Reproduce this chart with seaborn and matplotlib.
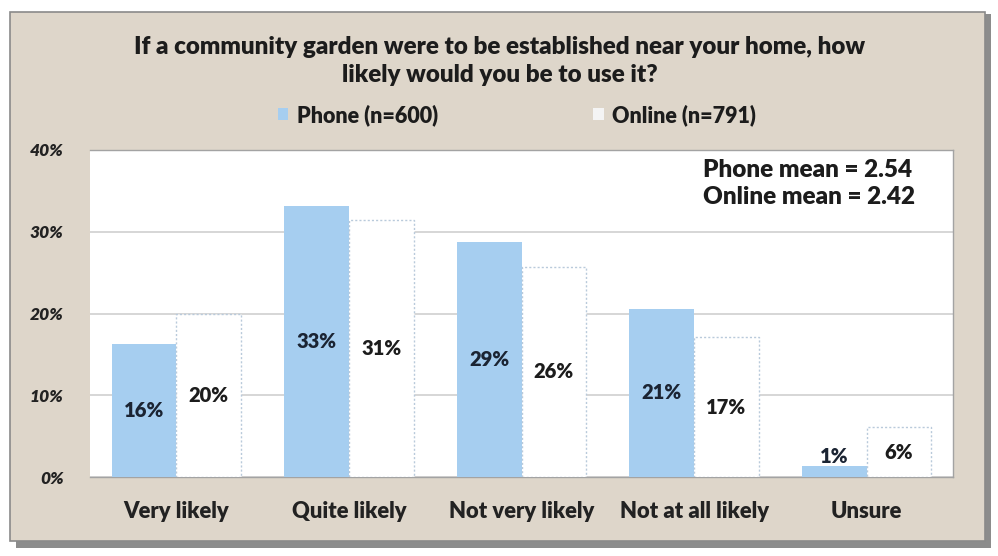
import matplotlib
matplotlib.use("Agg")
import matplotlib.pyplot as plt
import matplotlib.patches as mpatches
from matplotlib.ticker import FixedLocator
import seaborn as sns
import pandas as pd

# Survey responses (% of respondents)
categories = ["Very likely", "Quite likely", "Not very likely", "Not at all likely", "Unsure"]
phone_pct = [16.3, 33.2, 28.8, 20.6, 1.3]
online_pct = [20.0, 31.4, 25.7, 17.1, 6.1]
series = ["Phone (n=600)", "Online (n=791)"]
y_ticks = [0, 10, 20, 30, 40]
y_tick_labels = ["0%", "10%", "20%", "30%", "40%"]
title_text = ("If a community garden were to be established near your home, how\n"
              "likely would you be to use it?")
mean_lines = ["Phone mean = 2.54", "Online mean = 2.42"]

df = pd.DataFrame({
    "category": categories * 2,
    "series": [series[0]] * len(categories) + [series[1]] * len(categories),
    "pct": phone_pct + online_pct,
})

sns.set_theme(style="white")
plt.rcParams["font.family"] = ["Lato", "DejaVu Sans"]

PANEL = "#ded6ca"
PHONE = "#a6cef0"
ONLINE_EDGE = "#b9cadb"
GRID = "#cccccc"
TEXT = "#1c1c1c"
BOLD = 800

fig = plt.figure(figsize=(9.98, 5.56), dpi=100)
fig.patch.set_facecolor("white")

W, H = 998, 556
# Panel shadow and panel
fig.add_artist(mpatches.Rectangle((16 / W, 1 - 548 / H), 975 / W, 534 / H,
                                  transform=fig.transFigure, facecolor="#8c8c8c",
                                  edgecolor="none", zorder=0))
fig.add_artist(mpatches.Rectangle((10 / W, 1 - 541 / H), 975 / W, 529 / H,
                                  transform=fig.transFigure, facecolor=PANEL,
                                  edgecolor="#8a8a8a", linewidth=1.2, zorder=0.5))

ax = fig.add_axes([90 / W, 1 - 477 / H, 863 / W, 327 / H])
ax.set_facecolor("white")
ax.set_zorder(2)

sns.barplot(data=df, x="category", y="pct", hue="series", order=categories,
            hue_order=series, palette={series[0]: PHONE, series[1]: "white"},
            width=0.75, gap=0.0, saturation=1, legend=False, ax=ax, zorder=3)

phone_bars, online_bars = ax.containers[0], ax.containers[1]
for p in phone_bars:
    p.set_edgecolor("none")
for p in online_bars:
    p.set_edgecolor(ONLINE_EDGE)
    p.set_linestyle((0, (1.5, 1.5)))
    p.set_linewidth(1.0)

# Value labels centred in each bar (lifted above very short bars)
for bars, vals, col in [(phone_bars, phone_pct, "#1b2433"), (online_bars, online_pct, TEXT)]:
    for p, v in zip(bars, vals):
        x = p.get_x() + p.get_width() / 2
        y = v / 2 if v >= 3 else v + 1.2
        ax.text(x, y, f"{v:.0f}%", ha="center", va="center", fontsize=14.5,
                fontweight=BOLD, color=col, zorder=5)

ax.set_ylim(0, 40)
ax.set_xlim(-0.5, len(categories) - 0.5)
ax.set_yticks(y_ticks)
ax.set_yticklabels(y_tick_labels, fontsize=12.5, fontstyle="italic", fontweight=BOLD,
                   color="#222222")
ax.yaxis.grid(True, color=GRID, linewidth=1.1, zorder=0)
ax.set_axisbelow(True)
ax.set_xlabel("")
ax.set_ylabel("")
ax.set_xticks(range(len(categories)))
ax.set_xticklabels(categories, fontsize=15.8, fontweight=BOLD, color="#222222")
ax.xaxis.set_minor_locator(FixedLocator([i + 0.5 for i in range(-1, len(categories))]))
ax.tick_params(axis="x", which="major", length=0, pad=17)
ax.tick_params(axis="x", which="minor", length=6, color="#b0a89c", direction="out")
ax.tick_params(axis="y", length=6, color="#b0a89c", pad=13, direction="out")
for s in ax.spines.values():
    s.set_color("#a3a3a3")
    s.set_linewidth(1.0)
ax.spines["left"].set_visible(False)

# Mean scores, upper right of the plot area
for i, line in enumerate(mean_lines):
    ax.text(613 / 863, (477 - 170 - 27 * i) / 327, line, transform=ax.transAxes,
            ha="left", va="center", fontsize=17.5, fontweight=BOLD, color=TEXT, zorder=6)

fig.text(0.501, 1 - 61 / H, title_text, ha="center", va="center", fontsize=17.4,
         fontweight=BOLD, color=TEXT, linespacing=1.3)

handles = [mpatches.Patch(facecolor=PHONE, edgecolor="none", label=series[0]),
           mpatches.Patch(facecolor="#f4f4f4", edgecolor="none", label=series[1])]
leg = fig.legend(handles=handles, loc="center", bbox_to_anchor=(517 / W, 1 - 115 / H),
                 ncol=2, frameon=False, fontsize=15.5, columnspacing=7.2,
                 handlelength=0.5, handleheight=0.45, handletextpad=0.4)
for t in leg.get_texts():
    t.set_fontweight(BOLD)
    t.set_color(TEXT)

fig.savefig("out.png", dpi=100, facecolor=fig.get_facecolor())
